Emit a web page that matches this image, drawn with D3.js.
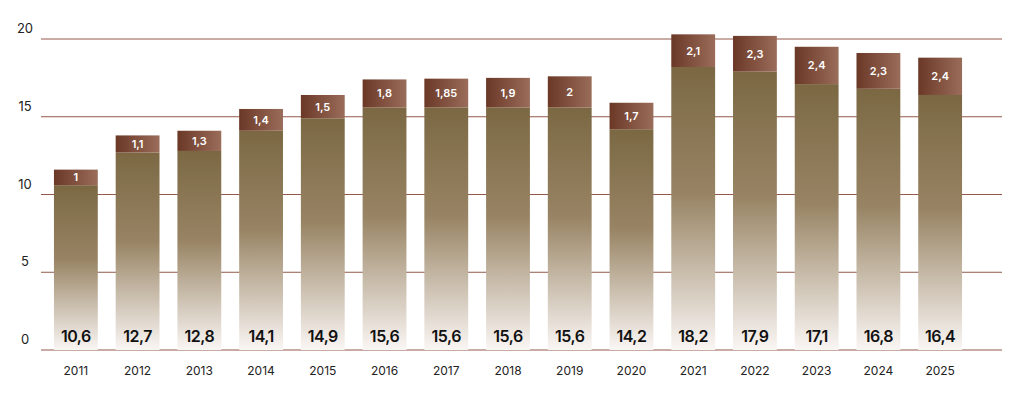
<!DOCTYPE html>
<html><head><meta charset="utf-8">
<script src="https://cdn.jsdelivr.net/npm/d3@7"></script>
<style>body{margin:0;background:#fff}svg{font-family:Inter,"Noto Sans",sans-serif}</style>
</head><body><svg></svg>
<script>
const w = 1024, h = 406;
const years = ['2011','2012','2013','2014','2015','2016','2017','2018','2019','2020','2021','2022','2023','2024','2025'];
const baseVals = [10.6,12.7,12.8,14.1,14.9,15.6,15.6,15.6,15.6,14.2,18.2,17.9,17.1,16.8,16.4];
const topVals = [1,1.1,1.3,1.4,1.5,1.8,1.85,1.9,2,1.7,2.1,2.3,2.4,2.3,2.4];
const yTicks = [0,5,10,15,20];
const fmt = v => String(v).replace('.', ',');

const svg = d3.select('svg').attr('width', w).attr('height', h);
const defs = svg.append('defs');
const g1 = defs.append('linearGradient').attr('id','base').attr('x1',0).attr('y1',0).attr('x2',0).attr('y2',1);
g1.append('stop').attr('offset','0%').attr('stop-color','#7b6843');
g1.append('stop').attr('offset','45%').attr('stop-color','#988464');
g1.append('stop').attr('offset','100%').attr('stop-color','#faf6f4');
const g2 = defs.append('linearGradient').attr('id','top').attr('x1',0).attr('y1',0).attr('x2',1).attr('y2',0);
g2.append('stop').attr('offset','0%').attr('stop-color','#6b3826');
g2.append('stop').attr('offset','100%').attr('stop-color','#9a6c5a');

const x = d3.scaleBand().domain(years).range([45, 971]).paddingInner(0.29).paddingOuter(0.145);
const y = d3.scaleLinear().domain([0,20]).range([350, 39]);

// grid
svg.selectAll('.grid').data(yTicks).enter().append('line')
  .attr('x1', 41).attr('x2', 1002)
  .attr('y1', d=>y(d)).attr('y2', d=>y(d))
  .attr('stroke', '#93594a').attr('stroke-width', 1);
svg.selectAll('.yl').data(yTicks).enter().append('text')
  .attr('x', 25).attr('y', d=>y(d)-6).attr('text-anchor','middle')
  .attr('font-size', 13).attr('fill','#222').text(d=>d);

const bars = svg.selectAll('.bar').data(years).enter().append('g');
bars.append('rect')
  .attr('x', d=>x(d)).attr('width', x.bandwidth())
  .attr('y', (d,i)=>y(baseVals[i])).attr('height', (d,i)=>y(0)-y(baseVals[i]))
  .attr('fill','url(#base)');
bars.append('rect')
  .attr('x', d=>x(d)).attr('width', x.bandwidth())
  .attr('y', (d,i)=>y(baseVals[i]+topVals[i])).attr('height', (d,i)=>y(baseVals[i])-y(baseVals[i]+topVals[i]))
  .attr('fill','url(#top)');
bars.append('text')
  .attr('x', d=>x(d)+x.bandwidth()/2)
  .attr('y', (d,i)=>(y(baseVals[i])+y(baseVals[i]+topVals[i]))/2+4)
  .attr('text-anchor','middle').attr('font-size',11).attr('font-weight',600).attr('fill','#fff')
  .text((d,i)=>fmt(topVals[i]));
bars.append('text')
  .attr('x', d=>x(d)+x.bandwidth()/2).attr('y', 342)
  .attr('text-anchor','middle').attr('font-size',16).attr('font-weight',600).attr('fill','#111')
  .attr('letter-spacing','-0.5')
  .text((d,i)=>fmt(baseVals[i]));

svg.selectAll('.xl').data(years).enter().append('text')
  .attr('x', d=>x(d)+x.bandwidth()/2).attr('y', 375).attr('text-anchor','middle')
  .attr('font-size', 12).attr('fill','#222').text(d=>d);
</script></body></html>
